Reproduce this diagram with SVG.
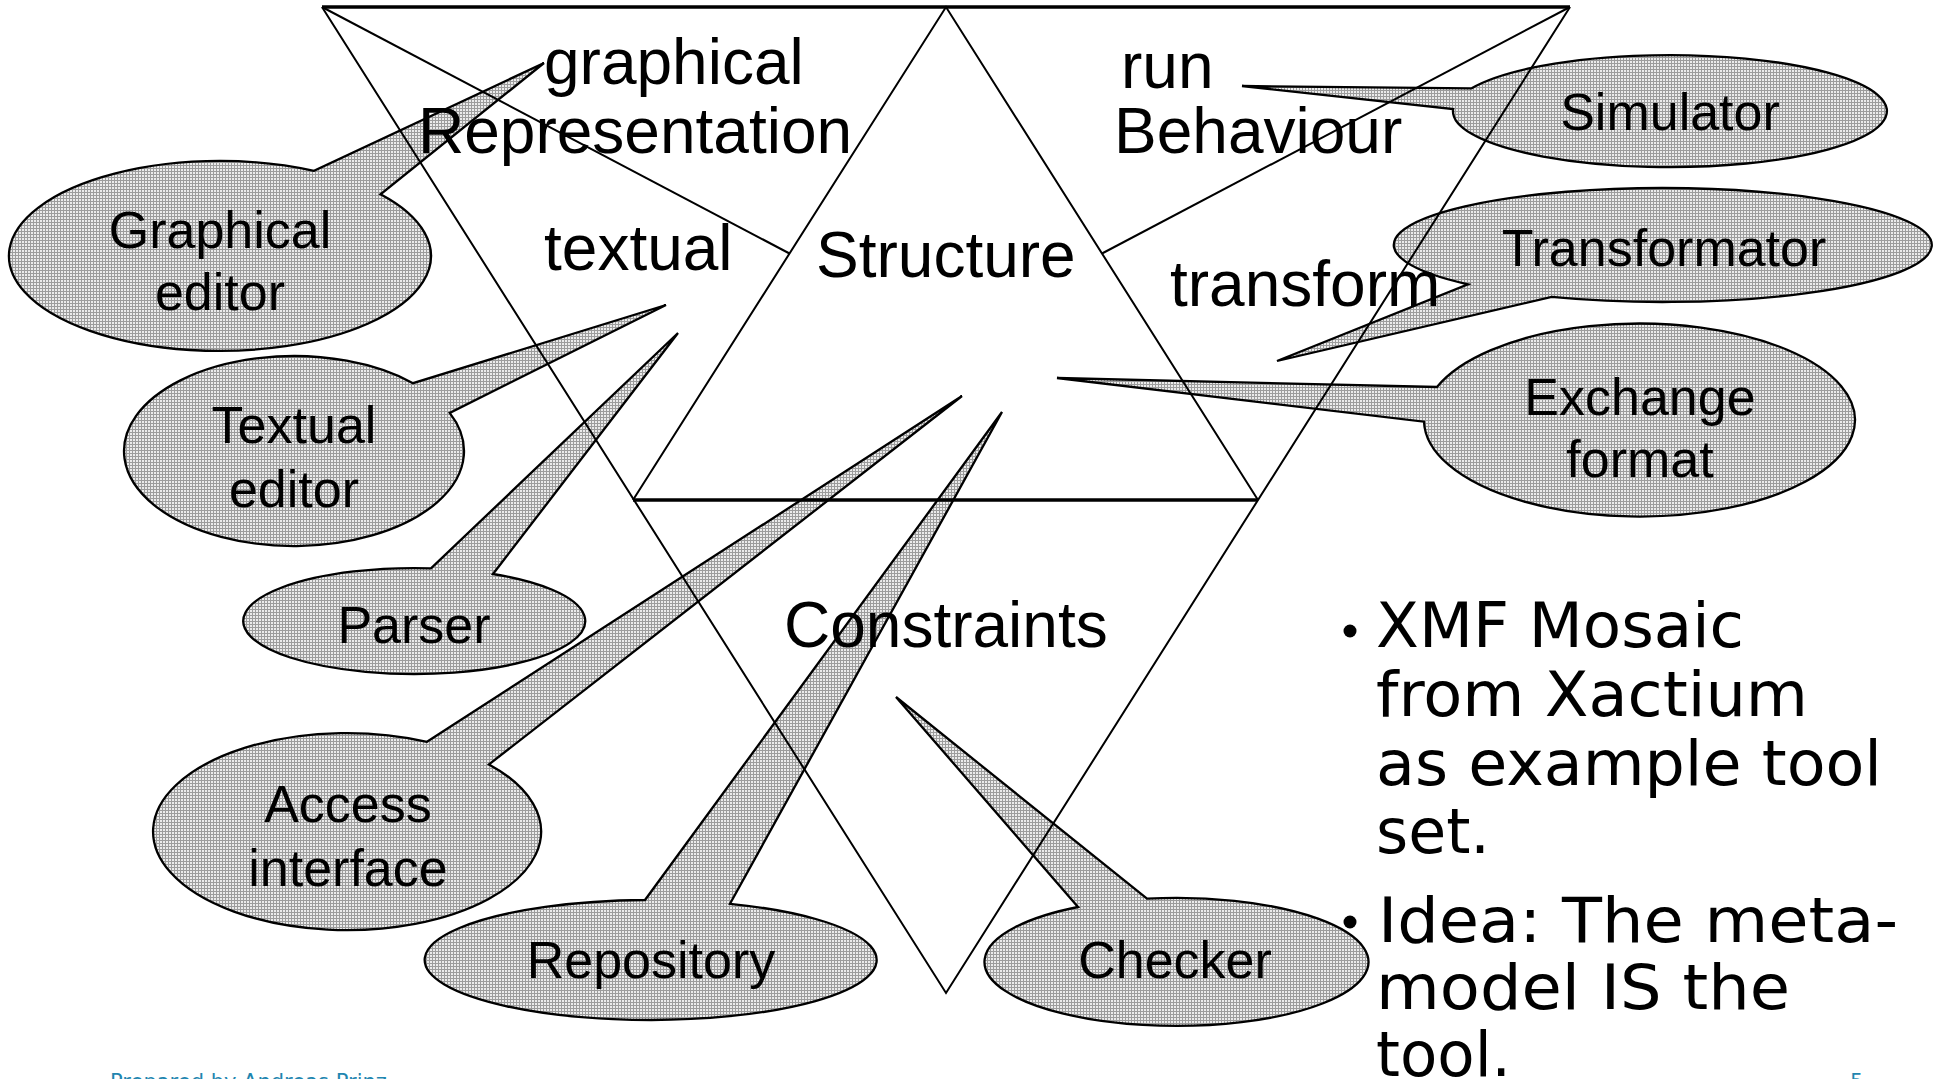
<svg xmlns="http://www.w3.org/2000/svg" width="1939" height="1079" viewBox="0 0 1939 1079">
  <defs>
    <!-- fine grey grid fill used by the callout bubbles -->
    <pattern id="grid" width="3" height="3" patternUnits="userSpaceOnUse">
      <rect width="3" height="3" fill="#ebebeb"/>
      <rect width="3" height="1" fill="#9c9c9c"/>
      <rect width="1" height="3" fill="#9c9c9c"/>
    </pattern>
  </defs>
  <style>
    .bubble { fill: url(#grid); stroke: #000; stroke-width: 2.3; stroke-linejoin: miter; }
    .lbl { font-family: "Liberation Sans", Arial, sans-serif; font-size: 52px; fill: #000; text-anchor: middle; }
    .area { font-family: "Liberation Sans", Arial, sans-serif; font-size: 64px; fill: #000; }
    .edge { fill: none; stroke: #000; stroke-width: 2; }
    .base { fill: none; stroke: #000; stroke-width: 3.5; }
    .bul { font-family: "DejaVu Sans", Verdana, sans-serif; font-size: 62px; fill: #000; }
    .dot { fill: #000; }
    .foot { font-family: "DejaVu Sans", Verdana, sans-serif; font-size: 21px; fill: #1f86b0; }
  </style>
  <rect width="1939" height="1079" fill="#fff"/>

  <!-- callout bubbles: ellipse with a wedge pointing into the diagram -->
  <g id="graphical-editor">
    <path class="bubble" d="M314,170.9 A211,95 0 1 0 380.5,194.3 L544,63 Z"/>
    <text class="lbl" x="220" y="248">Graphical</text>
    <text class="lbl" x="220" y="310">editor</text>
  </g>
  <g id="textual-editor">
    <path class="bubble" d="M413,383.2 A170,95 0 1 0 449.7,412.9 L666,305 Z"/>
    <text class="lbl" x="294" y="443">Textual</text>
    <text class="lbl" x="294" y="507">editor</text>
  </g>
  <g id="parser">
    <path class="bubble" d="M431,568.3 A171,53 0 1 0 493,574 L678,333 Z"/>
    <text class="lbl" x="414" y="643">Parser</text>
  </g>
  <g id="access-interface">
    <path class="bubble" d="M427,741.8 A194,98.5 0 1 0 489,764.4 L962,396 Z"/>
    <text class="lbl" x="348" y="822">Access</text>
    <text class="lbl" x="348" y="886">interface</text>
  </g>
  <g id="repository">
    <path class="bubble" d="M645,900 A226,60 0 1 0 730,903.8 L1002,412 Z"/>
    <text class="lbl" x="651" y="978">Repository</text>
  </g>
  <g id="checker">
    <path class="bubble" d="M1078,907 A192,64 0 1 0 1147,898.7 L896,697 Z"/>
    <text class="lbl" x="1175" y="978">Checker</text>
  </g>
  <g id="simulator">
    <path class="bubble" d="M1471.7,88.3 A217,56 0 1 1 1453.1,109 L1242,86 Z"/>
    <text class="lbl" x="1670" y="130">Simulator</text>
  </g>
  <g id="transformator">
    <path class="bubble" d="M1468,284.3 A269,57 0 1 1 1551.7,296.9 L1277,361 Z"/>
    <text class="lbl" x="1664" y="266">Transformator</text>
  </g>
  <g id="exchange-format">
    <path class="bubble" d="M1437,387 A215.5,96.5 0 1 1 1424,421.7 L1057,378 Z"/>
    <text class="lbl" x="1640" y="415">Exchange</text>
    <text class="lbl" x="1640" y="477">format</text>
  </g>

  <!-- two overlapping triangles and the corner-to-edge lines -->
  <g id="connectors">
    <polyline class="edge" points="322,7 946,993 1570,7"/>
    <polyline class="edge" points="633,500 946,7 1258,500"/>
    <line class="base" x1="322" y1="7" x2="1570" y2="7"/>
    <line class="base" x1="633" y1="500" x2="1258" y2="500"/>
    <line class="edge" x1="322" y1="7" x2="789.5" y2="253.5"/>
    <line class="edge" x1="1570" y1="7" x2="1102" y2="253.5"/>
  </g>

  <!-- region labels -->
  <g id="regions">
    <text class="area" x="544" y="84">graphical</text>
    <text class="area" x="418" y="153">Representation</text>
    <text class="area" x="1121" y="88">run</text>
    <text class="area" x="1114" y="153">Behaviour</text>
    <text class="area" x="544" y="270">textual</text>
    <text class="area" x="816" y="277">Structure</text>
    <text class="area" x="1170" y="306">transform</text>
    <text class="area" x="784" y="647">Constraints</text>
  </g>

  <!-- bullet list -->
  <g id="notes">
    <circle class="dot" cx="1350" cy="631" r="6.5"/>
    <text class="bul" x="1376" y="647" textLength="368" lengthAdjust="spacingAndGlyphs">XMF Mosaic</text>
    <text class="bul" x="1376" y="716" textLength="432" lengthAdjust="spacingAndGlyphs">from Xactium</text>
    <text class="bul" x="1376" y="785" textLength="506" lengthAdjust="spacingAndGlyphs">as example tool</text>
    <text class="bul" x="1376" y="853" textLength="114" lengthAdjust="spacingAndGlyphs">set.</text>
    <circle class="dot" cx="1350" cy="922" r="6.5"/>
    <text class="bul" x="1378" y="942" textLength="520" lengthAdjust="spacingAndGlyphs">Idea: The meta-</text>
    <text class="bul" x="1376" y="1009" textLength="414" lengthAdjust="spacingAndGlyphs">model IS the</text>
    <text class="bul" x="1376" y="1076" textLength="135" lengthAdjust="spacingAndGlyphs">tool.</text>
  </g>

  <!-- footer -->
  <g id="footer">
    <text class="foot" x="110" y="1089">Prepared by Andreas Prinz</text>
    <text class="foot" x="1850" y="1089">5</text>
  </g>
</svg>
